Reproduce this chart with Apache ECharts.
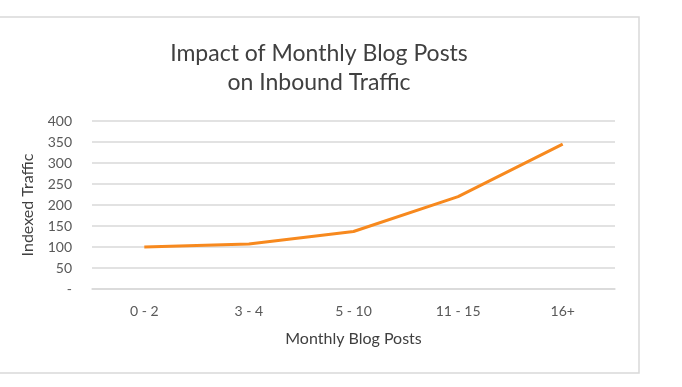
<!DOCTYPE html>
<html>
<head>
<meta charset="utf-8">
<script src="https://cdn.jsdelivr.net/npm/echarts@6/dist/echarts.min.js"></script>
<style>
html,body{margin:0;padding:0;background:#fff;}
#c{width:682px;height:387px;}
</style>
</head>
<body>
<div id="c"></div>
<script>
const titleText = "Impact of Monthly Blog Posts\non Inbound Traffic";
const xAxisTitle = "Monthly Blog Posts";
const yAxisTitle = "Indexed Traffic";
const categories = ["0 - 2", "3 - 4", "5 - 10", "11 - 15", "16+"];
const trafficValues = [100, 107, 137, 220, 345];
const yTicks = [0, 50, 100, 150, 200, 250, 300, 350, 400];

const FONT = "Lato";
const chart = echarts.init(document.getElementById('c'), null, {renderer: 'canvas'});
chart.setOption({
  animation: false,
  backgroundColor: '#fff',
  graphic: [{
    type: 'rect', shape: {x: -5, y: 17, width: 644, height: 356},
    style: {fill: 'none', stroke: '#d9d9d9', lineWidth: 1.5}, z: -1
  }],
  title: {
    text: titleText, left: 314, top: 34, textAlign: 'center',
    textStyle: {fontFamily: FONT, fontSize: 23, fontWeight: 'normal', color: '#404040', lineHeight: 29}
  },
  grid: {left: 92, right: 67, top: 121, bottom: 98},
  xAxis: {
    type: 'category', data: categories, boundaryGap: true,
    axisLine: {show: true, lineStyle: {color: '#d9d9d9', width: 1.5}},
    axisTick: {show: false},
    axisLabel: {fontFamily: FONT, fontSize: 14, color: '#595959', margin: 15},
    name: xAxisTitle, nameLocation: 'middle', nameGap: 42,
    nameTextStyle: {fontFamily: FONT, fontSize: 16, color: '#404040'}
  },
  yAxis: {
    type: 'value', min: yTicks[0], max: yTicks[yTicks.length - 1], interval: 50,
    axisLine: {show: false}, axisTick: {show: false},
    splitLine: {lineStyle: {color: '#d9d9d9', width: 1.5}},
    axisLabel: {fontFamily: FONT, fontSize: 14, color: '#595959', margin: 20,
      formatter: v => v === 0 ? '-' : String(v)},
    name: yAxisTitle, nameLocation: 'middle', nameGap: 56, nameRotate: 90,
    nameTextStyle: {fontFamily: FONT, fontSize: 16, color: '#404040'}
  },
  series: [{
    type: 'line', data: trafficValues, symbol: 'none', smooth: false,
    lineStyle: {color: '#F7891E', width: 3}
  }]
});
</script>
</body>
</html>
